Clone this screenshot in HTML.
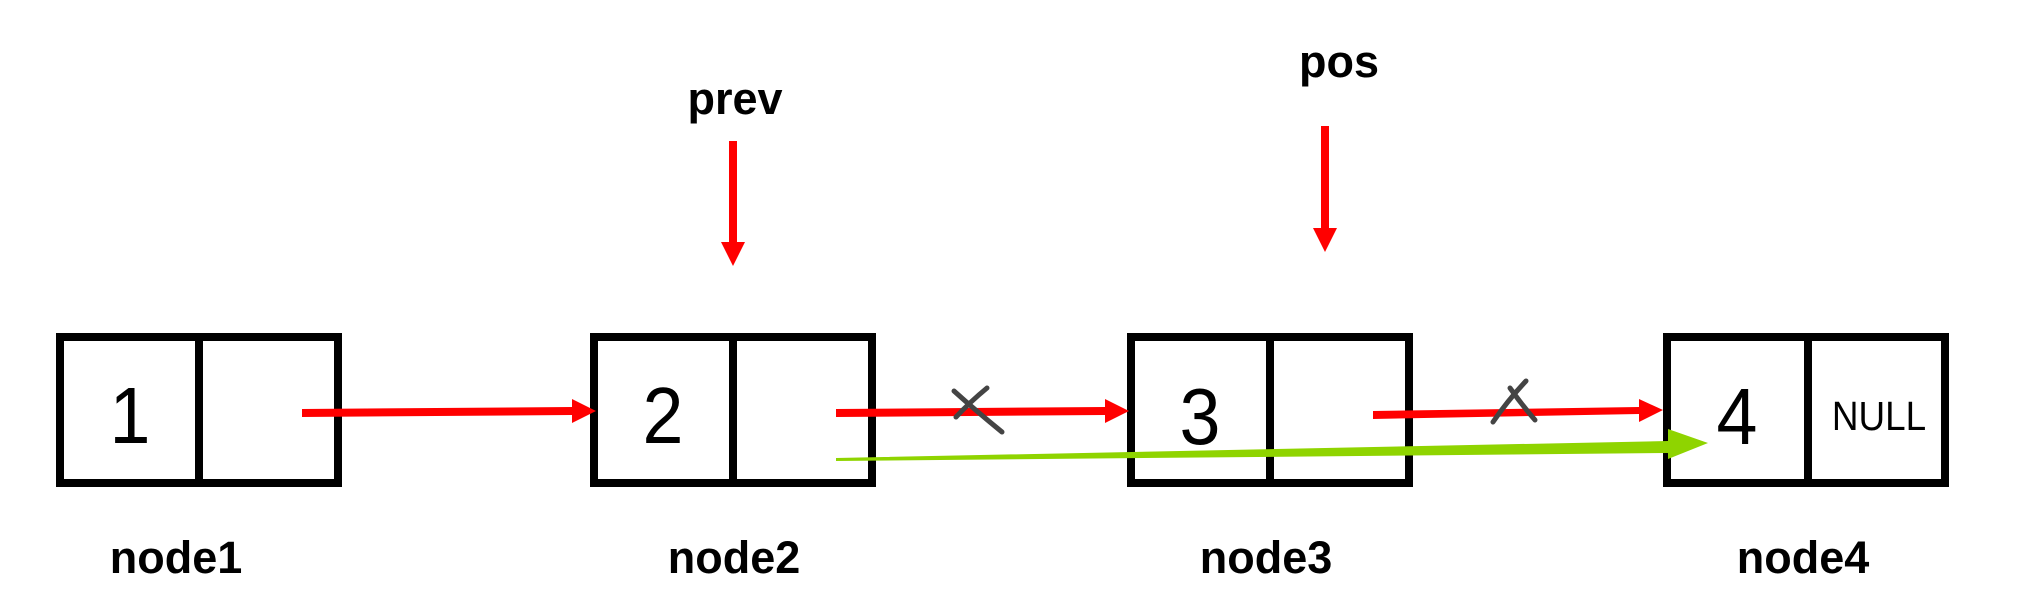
<!DOCTYPE html>
<html><head><meta charset="utf-8"><style>
html,body{margin:0;padding:0;background:#fff;}
svg{display:block;}
</style></head><body>
<svg width="2037" height="612" viewBox="0 0 2037 612" xmlns="http://www.w3.org/2000/svg">
<g fill="none" stroke="#000" stroke-width="8">
<rect x="60" y="337" width="278" height="146"/><line x1="199" y1="337" x2="199" y2="483"/>
<rect x="594" y="337" width="278" height="146"/><line x1="733" y1="337" x2="733" y2="483"/>
<rect x="1131" y="337" width="278" height="146"/><line x1="1270" y1="337" x2="1270" y2="483"/>
<rect x="1667" y="337" width="278" height="146"/><line x1="1808" y1="337" x2="1808" y2="483"/>
</g>
<g font-family="Liberation Sans, sans-serif" font-size="80" text-anchor="middle" fill="#000">
<text x="130" y="443" transform="translate(130 0) scale(0.92 1) translate(-130 0)">1</text>
<text x="663" y="443" transform="translate(663 0) scale(0.92 1) translate(-663 0)">2</text>
<text x="1200" y="444" transform="translate(1200 0) scale(0.92 1) translate(-1200 0)">3</text>
<text x="1737" y="444" transform="translate(1737 0) scale(0.92 1) translate(-1737 0)">4</text>
<text x="1879" y="430" font-size="41" transform="translate(1879 0) scale(0.9 1) translate(-1879 0)">NULL</text>
</g>
<g font-family="Liberation Sans, sans-serif" font-size="45" font-weight="bold" text-anchor="middle" fill="#000">
<text x="176" y="573">node1</text>
<text x="734" y="573">node2</text>
<text x="1266" y="573">node3</text>
<text x="1803" y="573">node4</text>
<text x="735" y="114">prev</text>
<text x="1339" y="77">pos</text>
</g>
<g fill="#f00" stroke="none">
<polygon points="302,409 572,407 572,399 596,411 572,423 572,415 302,417"/>
<polygon points="836,409 1105,407 1105,399 1129,411 1105,423 1105,415 836,417"/>
<polygon points="1373,411 1639,407 1639,399 1663,410 1639,422 1639,414 1373,419"/>
<rect x="729" y="141" width="8" height="102"/><polygon points="721,242 745,242 733,266"/>
<rect x="1321" y="126" width="8" height="103"/><polygon points="1313,228 1337,228 1325,252"/>
</g>
<polygon points="836,458 1668,441 1668,429 1708,443 1668,459 1668,453 836,461" fill="#8fd400"/>
<g stroke="#444" stroke-width="5" stroke-linecap="round" fill="none">
<path d="M954,391 Q975,410 1002,432"/><path d="M987,388 Q970,402 956,417"/>
<path d="M1526,381 Q1508,400 1493,422"/><path d="M1510,388 Q1522,405 1535,420"/>
</g>
</svg>
</body></html>
